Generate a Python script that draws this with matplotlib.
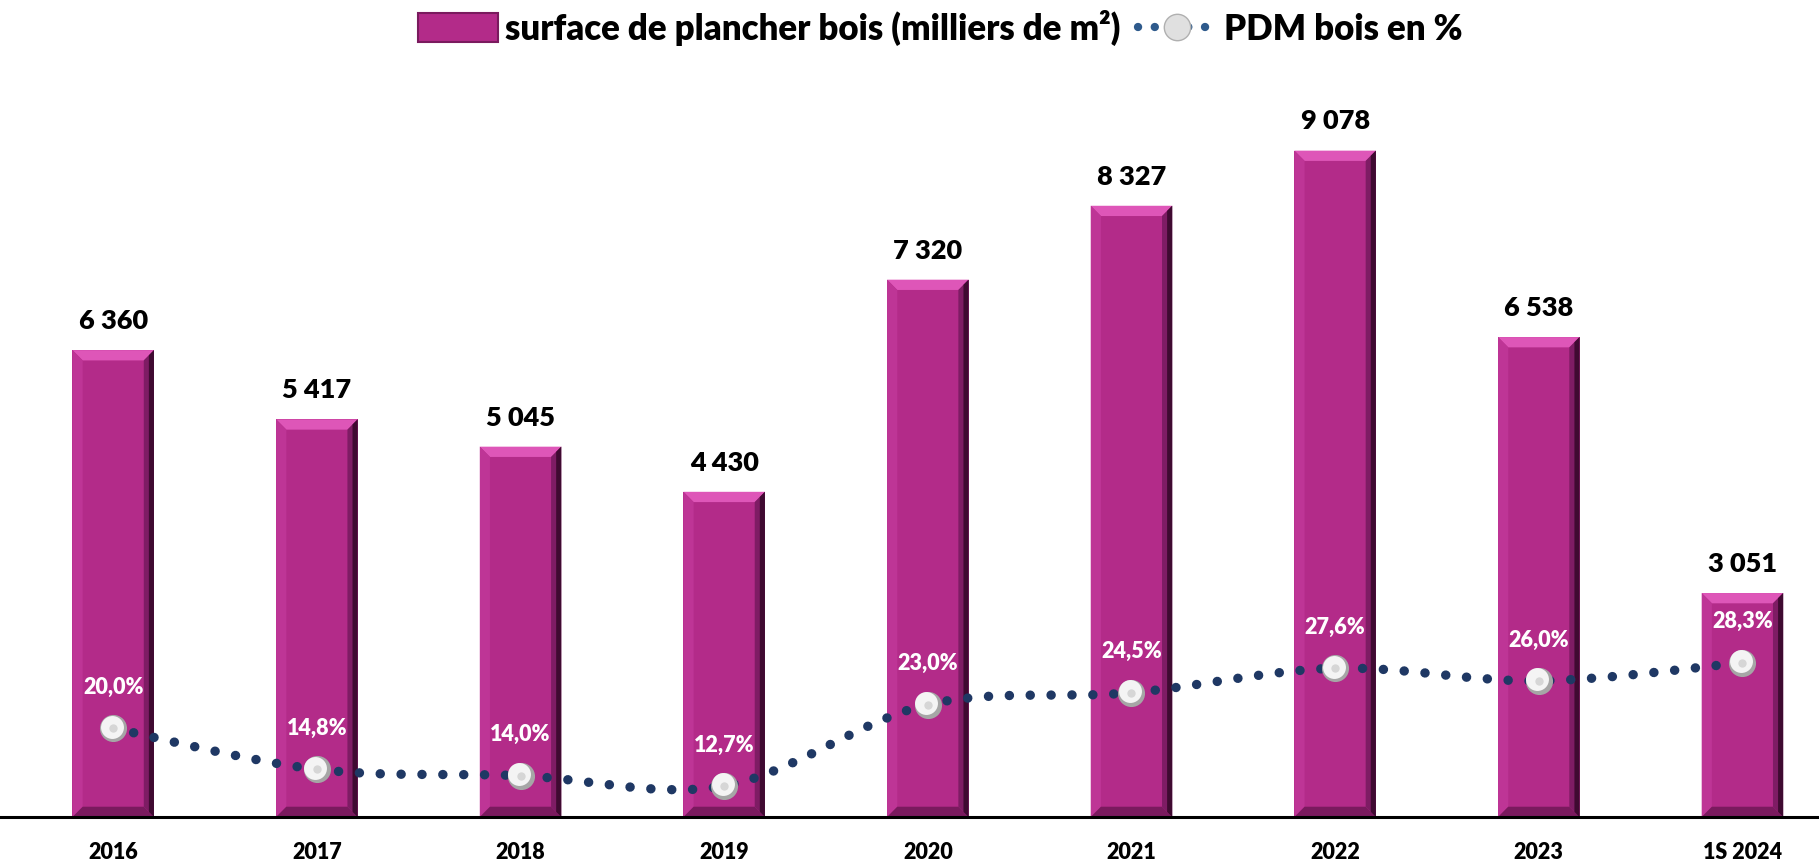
import matplotlib
matplotlib.use("Agg")
import matplotlib.pyplot as plt
from matplotlib.patches import Polygon, PathPatch
from matplotlib.path import Path
from matplotlib.lines import Line2D
from matplotlib.transforms import ScaledTranslation

plt.rcParams["font.family"] = ["Lato", "DejaVu Sans"]
plt.rcParams["font.weight"] = "heavy"

# data
years = ["2016", "2017", "2018", "2019", "2020", "2021", "2022", "2023", "1S 2024"]
surface = [6360, 5417, 5045, 4430, 7320, 8327, 9078, 6538, 3051]
pdm = [20.0, 14.8, 14.0, 12.7, 23.0, 24.5, 27.6, 26.0, 28.3]

BAR = "#B32B89"
BAR_TOP = "#DE56B8"
BAR_RIGHT = "#7E1C64"
BAR_RIGHT_DARK = "#3F0A31"
BAR_BOTTOM = "#7A1A5E"
BAR_LEFT = "#BE3596"
LINE = "#1F3864"

fig = plt.figure(figsize=(18.19, 8.66), dpi=100)
ax = fig.add_axes([0, 0.0566, 1, 0.8476])
ax2 = ax.twinx()

x = list(range(len(years)))
bars = ax.bar(x, surface, width=0.4, color=BAR, zorder=2)

# bevel on each bar
bx, by = 0.05, 140
for b in bars:
    x0, x1 = b.get_x(), b.get_x() + b.get_width()
    top = b.get_height()
    for pts, col in [
        ([(x0, top), (x1, top), (x1 - bx, top - by), (x0 + bx, top - by)], BAR_TOP),
        ([(x0, top), (x0 + bx, top - by), (x0 + bx, by), (x0, 0)], BAR_LEFT),
        ([(x0, 0), (x1, 0), (x1 - bx, by), (x0 + bx, by)], BAR_BOTTOM),
        ([(x1, top), (x1, 0), (x1 - bx, by), (x1 - bx, top - by)], BAR_RIGHT),
        ([(x1, top), (x1, 0), (x1 - bx / 2, by / 2), (x1 - bx / 2, top - by / 2)], BAR_RIGHT_DARK),
    ]:
        ax.add_patch(Polygon(pts, closed=True, facecolor=col, edgecolor="none", zorder=3))
    ax.annotate(f"{b.get_height():,}".replace(",", " "),
                (b.get_x() + b.get_width() / 2, top), xytext=(0, 21),
                textcoords="offset points", ha="center", va="center",
                fontsize=19.5, color="black")

ax.set_xlim(-0.556, 8.376)
ax.set_ylim(0, 10000)
ax.set_yticks([])
ax.set_xticks(x)
ax.set_xticklabels(years, fontsize=15.5, color="black")
ax.tick_params(axis="x", length=0, pad=18)
for s in ["top", "right", "left"]:
    ax.spines[s].set_visible(False)
ax.spines["bottom"].set_linewidth(2.2)
ax.spines["bottom"].set_color("black")
ax.spines["bottom"].set_zorder(6)

# smoothed percentage line (Catmull-Rom bezier through the data points)
pts = list(zip(x, pdm))
verts = [pts[0]]
codes = [Path.MOVETO]
for i in range(len(pts) - 1):
    p0 = pts[i - 1] if i > 0 else pts[i]
    p1, p2 = pts[i], pts[i + 1]
    p3 = pts[i + 2] if i + 2 < len(pts) else pts[i + 1]
    c1 = (p1[0] + (p2[0] - p0[0]) / 6, p1[1] + (p2[1] - p0[1]) / 6)
    c2 = (p2[0] - (p3[0] - p1[0]) / 6, p2[1] - (p3[1] - p1[1]) / 6)
    verts += [c1, c2, p2]
    codes += [Path.CURVE4] * 3
curve = PathPatch(Path(verts, codes), facecolor="none", edgecolor=LINE,
                  linewidth=6.8, linestyle=(0, (0.01, 2.2)), zorder=4)
curve.set_capstyle("round")
ax2.add_patch(curve)

# sphere-like markers
ax2.plot(x, pdm, linestyle="none", marker="o", markersize=19.5,
         markerfacecolor="#A6A6A6", markeredgecolor="none", zorder=5)
hl = ax2.transData + ScaledTranslation(-1 / 72, 1.2 / 72, fig.dpi_scale_trans)
ax2.plot(x, pdm, linestyle="none", marker="o", markersize=16.5, transform=hl,
         markerfacecolor="#F4F4F4", markeredgecolor="none", zorder=6)
ax2.plot(x, pdm, linestyle="none", marker="o", markersize=6,
         markerfacecolor="#D6D6D6", markeredgecolor="none", zorder=6)
for xi, p in zip(x, pdm):
    ax2.annotate(f"{p:.1f}%".replace(".", ","), (xi, p), xytext=(0, 29.5),
                 textcoords="offset points", ha="center", va="center",
                 fontsize=15.5, color="white", zorder=7)
ax2.set_ylim(8.77, 101.7)
ax2.set_yticks([])
for s in ax2.spines.values():
    s.set_visible(False)

# legend
h_bar = plt.Rectangle((0, 0), 1, 1, facecolor=BAR, edgecolor="#7A1A5E", linewidth=1.5)
h_line = Line2D([], [], color="#2E5A8C", linewidth=6, linestyle=(0, (0.01, 2.0)),
                dash_capstyle="round", marker="o", markersize=19,
                markerfacecolor="#E0E0E0", markeredgecolor="#B0B0B0")
fig.legend([h_bar, h_line], ["surface de plancher bois (milliers de m²)", "PDM bois en %"],
           loc="center", bbox_to_anchor=(0.517, 0.968), ncol=2, frameon=False,
           prop={"size": 25, "weight": "heavy"}, handlelength=2.3, handleheight=0.9,
           handletextpad=0.2, columnspacing=0.5, numpoints=1)

fig.savefig("out.png", dpi=100)
